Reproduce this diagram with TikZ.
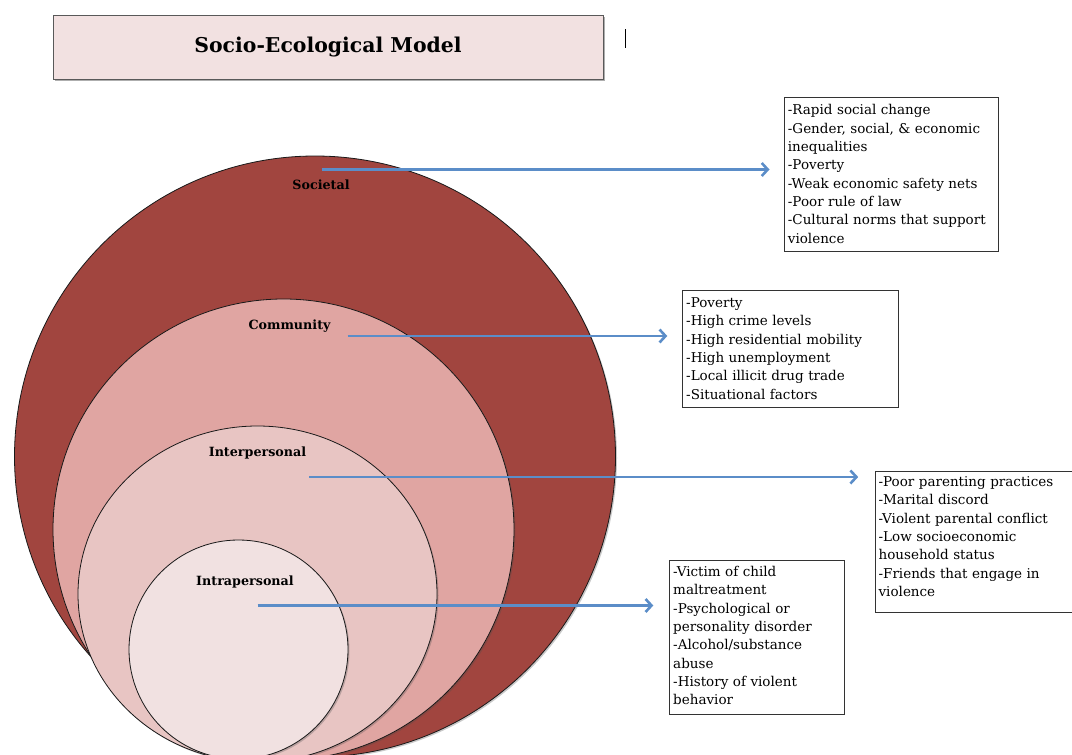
\documentclass[tikz,border=0pt]{standalone}
\usepackage{fontspec}
\setmainfont{DejaVu Serif}
\usetikzlibrary{arrows.meta,shadows}

\definecolor{societalred}{HTML}{A1453F}
\definecolor{communitypink}{HTML}{E0A5A2}
\definecolor{interpink}{HTML}{E8C5C3}
\definecolor{intrapink}{HTML}{F1E1E1}
\definecolor{titlefill}{HTML}{F2E1E1}
\definecolor{linkblue}{HTML}{5B8DC8}

\begin{document}
\begin{tikzpicture}[x=1pt,y=-1pt,
  ring/.style={draw=black!90, line width=0.8pt,
    drop shadow={shadow xshift=1.5pt, shadow yshift=-1.5pt, opacity=0.3, fill=black!70}},
  level/.style={font=\bfseries\fontsize{12.7}{15}\selectfont, inner sep=0pt},
  factors/.style={draw=black!80, line width=0.8pt, fill=white, anchor=north west,
    align=left, inner xsep=3.5pt, inner ysep=0pt,
    font=\fontsize{13.5}{18.3}\selectfont},
  link/.style={draw=linkblue, line width=2.6pt,
    -{Straight Barb[length=6pt,width=13pt]}},
  titlebox/.style={draw=black!65, line width=0.8pt, fill=titlefill,
    minimum width=550pt, minimum height=64pt, inner sep=0pt,
    font=\bfseries\fontsize{20.4}{24}\selectfont,
    drop shadow={shadow xshift=1.5pt, shadow yshift=-1.5pt, opacity=0.45, fill=black!70}}
]
\useasboundingbox (0,0) rectangle (1072,755);

% nested levels of the model
\begin{scope}
  \clip (0,0) rectangle (1072,755);
  \draw[ring, fill=societalred]   (315,456.5) circle [radius=300.5pt];
  \draw[ring, fill=communitypink] (283.5,529.5) circle [radius=230.5pt];
  \draw[ring, fill=interpink]     (257.5,594) ellipse [x radius=179.5pt, y radius=168pt];
  \draw[ring, fill=intrapink]     (238.5,649.5) circle [radius=109.5pt];
\end{scope}

% heading
\node[titlebox] (title) at (328,47) {Socio-Ecological Model};
\draw[line width=1.4pt] (625.5,29) -- (625.5,48);

% level names
\node[level] (societal)      at (321,184.5) {Societal};
\node[level] (community)     at (289.5,326) {Community};
\node[level] (interpersonal) at (257.5,453) {Interpersonal};
\node[level] (intrapersonal) at (245,582)   {Intrapersonal};

% risk factor lists
\node[factors, text width=206.7pt] (societalbox) at (784,96.7)
  {\rule{0pt}{17.8pt}-Rapid social change\\
   -Gender, social, \& economic\\
   inequalities\\
   -Poverty\\
   -Weak economic safety nets\\
   -Poor rule of law\\
   -Cultural norms that support\\
   violence\rule[-8.7pt]{0pt}{8.7pt}};

\node[factors, text width=209pt] (communitybox) at (682.3,290)
  {\rule{0pt}{17.2pt}-Poverty\\
   -High crime levels\\
   -High residential mobility\\
   -High unemployment\\
   -Local illicit drug trade\\
   -Situational factors\rule[-8.3pt]{0pt}{8.3pt}};

\node[factors, text width=193pt] (interbox) at (874.7,470.7)
  {\rule{0pt}{15.5pt}-Poor parenting practices\\
   -Marital discord\\
   -Violent parental conflict\\
   -Low socioeconomic\\
   household status\\
   -Friends that engage in\\
   violence\rule[-15.7pt]{0pt}{15.7pt}};

\node[factors, text width=168pt] (intrabox) at (669.3,560)
  {\rule{0pt}{16.2pt}-Victim of child\\
   maltreatment\\
   -Psychological or\\
   personality disorder\\
   -Alcohol/substance\\
   abuse\\
   -History of violent\\
   behavior\rule[-9.7pt]{0pt}{9.7pt}};

% connectors from each level to its list
\coordinate (societalstart)      at (322,169.5);
\coordinate (communitystart)     at (347.5,336);
\coordinate (interpersonalstart) at (309,477);
\coordinate (intrapersonalstart) at (257.5,605.5);

\draw[link, shorten >=14.5pt] (societalstart) -- (societalstart -| societalbox.west);
\draw[link, shorten >=15pt]   (communitystart) -- (communitystart -| communitybox.west);
\draw[link, shorten >=16.5pt] (interpersonalstart) -- (interpersonalstart -| interbox.west);
\draw[link, shorten >=16pt]   (intrapersonalstart) -- (intrapersonalstart -| intrabox.west);
\end{tikzpicture}
\end{document}
